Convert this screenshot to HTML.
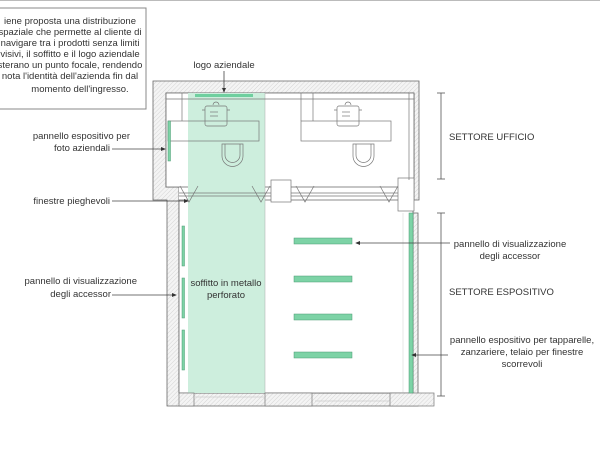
<!DOCTYPE html>
<html><head><meta charset="utf-8"><style>
html,body{margin:0;padding:0;background:#fff;width:600px;height:460px;overflow:hidden}
text{font-family:"Liberation Sans",sans-serif;fill:#333;font-size:9.5px}
</style></head><body>
<svg width="600" height="460" viewBox="0 0 600 460" xmlns="http://www.w3.org/2000/svg">
<defs><pattern id="h" width="3" height="3" patternUnits="userSpaceOnUse" patternTransform="rotate(45)"><rect width="3" height="3" fill="#f4f4f4"/><line x1="0" y1="0" x2="0" y2="3" stroke="#ccc" stroke-width="0.8"/></pattern>
<marker id="a" markerWidth="6" markerHeight="6" refX="5" refY="3" orient="auto"><path d="M0,0.5 L6,3 L0,5.5z" fill="#333"/></marker></defs>
<rect x="0" y="0" width="600" height="1" fill="#bbb"/>
<!-- text box -->
<rect x="-2" y="8" width="148" height="101" fill="#fff" stroke="#888"/>
<g text-anchor="middle">
<text x="70" y="24">iene proposta una distribuzione</text>
<text x="70" y="35">spaziale che permette al cliente di</text>
<text x="70" y="46">navigare tra i prodotti senza limiti</text>
<text x="70" y="57">visivi, il soffitto e il logo aziendale</text>
<text x="70" y="68">sterano un punto focale, rendendo</text>
<text x="70" y="79">nota l'identità dell'azienda fin dal</text>
<text x="80" y="92">momento dell'ingresso.</text>
</g>
<!-- walls -->
<path d="M153,81 H419 V200 H414 V93 H166 V187 H179 V393 H413 V213 H418 V406 H167 V200 H153 Z" fill="url(#h)" stroke="#666" stroke-width="0.8"/>
<rect x="166" y="93" width="248" height="94" fill="#fff"/>
<rect x="179" y="187" width="234" height="206" fill="#fff"/>
<path d="M166,93 H414 V187 H166 Z M179,200 H413 V393 H179 Z" fill="none" stroke="#666" stroke-width="0.8"/>
<!-- green ceiling -->
<rect x="188" y="93" width="77" height="300" fill="#cdeedd"/>
<line x1="265" y1="93" x2="265" y2="393" stroke="#aaa" stroke-width="0.5"/>
<rect x="195" y="94" width="58" height="3" fill="#6fcf9f"/>
<!-- office interior lines -->
<g fill="none" stroke="#777" stroke-width="0.7">
<line x1="166" y1="99" x2="414" y2="99"/>
<line x1="182" y1="93" x2="182" y2="121"/><line x1="313" y1="93" x2="313" y2="121"/><line x1="301" y1="93" x2="301" y2="121"/>
<rect x="168" y="121" width="91" height="20"/><rect x="301" y="121" width="90" height="20"/>
<path d="M222,144 V156 A10.5,10.5 0 0 0 243,156 V144 Z"/><path d="M225,144 V155 A7.5,7.5 0 0 0 240,155 V144"/>
<path d="M353,144 V156 A10.5,10.5 0 0 0 374,156 V144 Z"/><path d="M356,144 V155 A7.5,7.5 0 0 0 371,155 V144"/>
<rect x="205" y="106" width="22" height="20" rx="2"/><path d="M205,110 h-3 M227,110 h3 M213,105 a3,3 0 0 1 6,0"/>
<line x1="210" y1="112" x2="218" y2="112"/><line x1="210" y1="116" x2="218" y2="116"/>
<rect x="337" y="106" width="22" height="20" rx="2"/><path d="M337,110 h-3 M359,110 h3 M345,105 a3,3 0 0 1 6,0"/>
<line x1="342" y1="112" x2="350" y2="112"/><line x1="342" y1="116" x2="350" y2="116"/>
<line x1="179" y1="193" x2="413" y2="193"/><line x1="179" y1="196" x2="413" y2="196"/>
<path d="M180,186 L189,202 L198,186 M252,186 L261,202 L270,186 M296,186 L305,202 L314,186 M380,186 L389,202 L398,186"/>
<rect x="271" y="180" width="20" height="22" fill="#fff"/>
<rect x="398" y="178" width="16" height="33" fill="#fff"/>
<line x1="409" y1="93" x2="409" y2="180"/>
<line x1="403" y1="213" x2="403" y2="393" stroke="#ddd"/>
<rect x="179" y="393" width="15" height="13" fill="url(#h)"/>
<rect x="265" y="393" width="47" height="13" fill="url(#h)"/>
<rect x="390" y="393" width="44" height="13" fill="url(#h)"/>
<line x1="194" y1="397" x2="265" y2="397" stroke="#ccc"/><line x1="315" y1="401" x2="389" y2="401" stroke="#ccc"/>
</g>
<!-- green panels -->
<g fill="#7dd3a6" stroke="#4a9a72" stroke-width="0.5">
<rect x="168" y="121" width="2.5" height="40"/>
<rect x="182" y="226" width="2.5" height="40"/><rect x="182" y="278" width="2.5" height="40"/><rect x="182" y="330" width="2.5" height="40"/>
<rect x="294" y="238" width="58" height="6"/><rect x="294" y="276" width="58" height="6"/><rect x="294" y="314" width="58" height="6"/><rect x="294" y="352" width="58" height="6"/>
<rect x="409" y="213" width="4" height="180"/>
</g>
<!-- dims -->
<g stroke="#555" stroke-width="0.8">
<line x1="441" y1="93" x2="441" y2="179"/><line x1="437" y1="93" x2="445" y2="93"/><line x1="437" y1="179" x2="445" y2="179"/>
<line x1="441" y1="213" x2="441" y2="396"/><line x1="437" y1="213" x2="445" y2="213"/><line x1="437" y1="396" x2="445" y2="396"/>
</g>
<!-- leaders -->
<g stroke="#444" stroke-width="0.8" fill="none" marker-end="url(#a)">
<line x1="224" y1="71" x2="224" y2="92"/>
<line x1="112" y1="149" x2="165" y2="149"/>
<line x1="112" y1="201" x2="188" y2="201"/>
<line x1="112" y1="295" x2="176" y2="295"/>
<line x1="450" y1="243" x2="356" y2="243"/>
<line x1="448" y1="355" x2="412" y2="355"/>
</g>
<text x="224" y="68" text-anchor="middle" font-size="8.5">logo aziendale</text>
<g text-anchor="end">
<text x="130" y="139">pannello espositivo per</text>
<text x="110" y="151">foto aziendali</text>
<text x="110" y="204">finestre pieghevoli</text>
<text x="137" y="284">pannello di visualizzazione</text>
<text x="111" y="297">degli accessor</text>
</g>
<g text-anchor="middle">
<text x="226" y="286" font-size="8.5">soffitto in metallo</text>
<text x="226" y="298" font-size="8.5">perforato</text>
<text x="510" y="247">pannello di visualizzazione</text>
<text x="510" y="259">degli accessor</text>
<text x="522" y="343">pannello espositivo per tapparelle,</text>
<text x="522" y="355">zanzariere, telaio per finestre</text>
<text x="522" y="367">scorrevoli</text>
</g>
<text x="449" y="140" font-size="8.5">SETTORE UFFICIO</text>
<text x="449" y="295" font-size="8.5">SETTORE ESPOSITIVO</text>
</svg>
</body></html>
